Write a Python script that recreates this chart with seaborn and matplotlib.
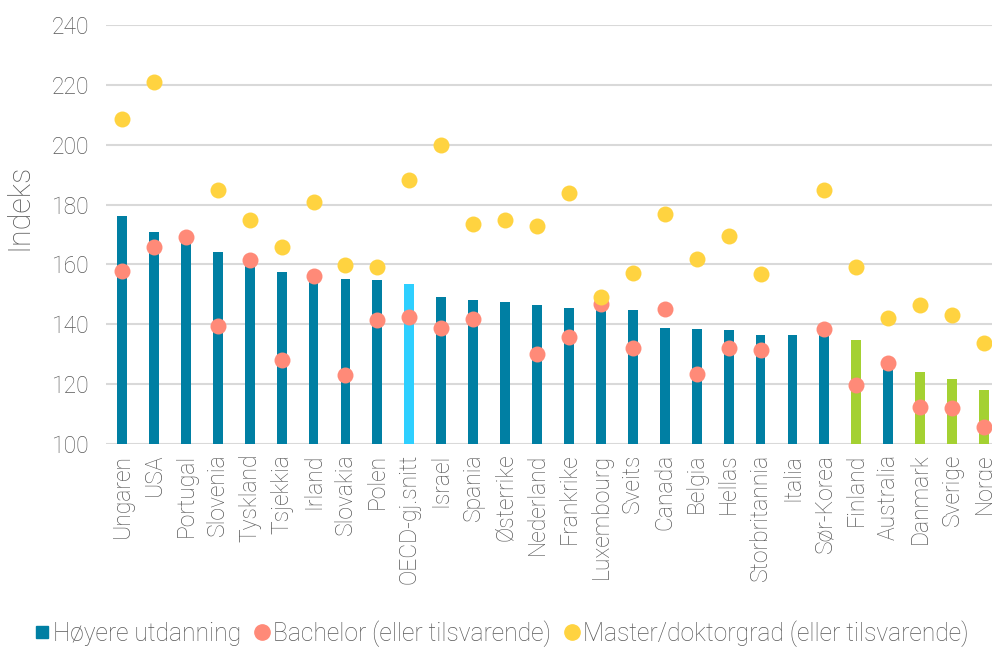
import matplotlib
matplotlib.use('Agg')
import matplotlib.pyplot as plt
from matplotlib.lines import Line2D
import seaborn as sns
import pandas as pd

land = ["Ungaren", "USA", "Portugal", "Slovenia", "Tyskland", "Tsjekkia", "Irland",
        "Slovakia", "Polen", "OECD-gj.snitt", "Israel", "Spania", "Østerrike",
        "Nederland", "Frankrike", "Luxembourg", "Sveits", "Canada", "Belgia",
        "Hellas", "Storbritannia", "Italia", "Sør-Korea", "Finland", "Australia",
        "Danmark", "Sverige", "Norge"]
hoyere = [176.2, 171.0, 168.5, 164.3, 161.5, 157.4, 156.0, 155.2, 154.8, 153.5,
          149.0, 148.0, 147.4, 146.3, 145.6, 146.0, 144.9, 138.9, 138.4, 138.0,
          136.4, 136.4, 136.5, 134.8, 125.0, 124.0, 121.7, 118.0]
bachelor = [157.9, 165.7, 169.2, 139.5, 161.6, 128.1, 156.2, 122.9, 141.3, 142.3,
            138.9, 141.7, None, 130.0, 135.9, 146.7, 132.2, 145.0, 123.5, 132.2,
            131.3, None, 138.5, 119.7, 127.1, 112.4, 112.1, 105.8]
master = [208.7, 220.8, None, 185.0, 175.0, 165.7, 180.8, 159.9, 159.0, 188.3,
          199.8, 173.5, 175.0, 172.9, 184.0, 149.0, 157.3, 176.9, 161.7, 169.4,
          156.8, None, 184.8, 159.2, 142.0, 146.4, 143.1, 133.9]
gruppe = ["land"] * 9 + ["oecd"] + ["land"] * 13 + ["norden", "land", "norden", "norden", "norden"]

farger = {"land": "#007FA3", "oecd": "#2ECFFF", "norden": "#A4D132"}
c_bach = "#FF8A78"
c_mast = "#FFD340"
tekst = "#595959"

df = pd.DataFrame({"land": land, "hoyere": hoyere, "bachelor": bachelor,
                   "master": master, "gruppe": gruppe})

sns.set_style("white")
plt.rcParams['font.family'] = ['Roboto', 'DejaVu Sans']

fig = plt.figure(figsize=(9.92, 6.48), dpi=100)
ax = fig.add_axes([106 / 992, 1 - 444 / 648, 894 / 992, 419 / 648])

sns.barplot(data=df, x="land", y="hoyere", hue="gruppe", palette=farger,
            width=0.31, dodge=False, legend=False, saturation=1, linewidth=0,
            ax=ax, zorder=2)
sns.stripplot(data=df, x="land", y="bachelor", color=c_bach, jitter=False,
              size=11.5, linewidth=0, ax=ax, zorder=3)
sns.stripplot(data=df, x="land", y="master", color=c_mast, jitter=False,
              size=11.5, linewidth=0, ax=ax, zorder=3)

ax.set_ylim(100, 240)
ax.set_xlim(-0.5, len(land) - 0.5)
ax.set_yticks(range(100, 241, 20))
ax.yaxis.grid(True, color="#D9D9D9", linewidth=1.5, zorder=0)
ax.set_axisbelow(True)
for s in ax.spines.values():
    s.set_visible(False)

ax.set_xlabel("")
ax.set_ylabel("Indeks", fontsize=22, color=tekst, fontweight="light")
ax.yaxis.set_label_coords(-0.081, 0.565)
ax.tick_params(axis="x", length=0, labelsize=16.5, labelcolor=tekst, rotation=90, pad=7)
ax.tick_params(axis="y", length=0, labelsize=16.5, labelcolor=tekst, pad=12)
for lab in ax.get_xticklabels() + ax.get_yticklabels():
    lab.set_fontweight("light")

handles = [
    Line2D([], [], marker="s", linestyle="", color=farger["land"], markersize=8.5),
    Line2D([], [], marker="o", linestyle="", color=c_bach, markersize=11),
    Line2D([], [], marker="o", linestyle="", color=c_mast, markersize=11),
]
labels = ["Høyere utdanning", "Bachelor (eller tilsvarende)",
          "Master/doktorgrad (eller tilsvarende)"]
leg = fig.legend(handles, labels, loc="center", bbox_to_anchor=(0.506, 0.022),
                 ncol=3, frameon=False, fontsize=17.7, handlelength=0.55,
                 handletextpad=0.2, columnspacing=0.55, borderpad=0.1)
for t in leg.get_texts():
    t.set_color(tekst)
    t.set_fontweight("light")

fig.savefig("out.png", dpi=100)
